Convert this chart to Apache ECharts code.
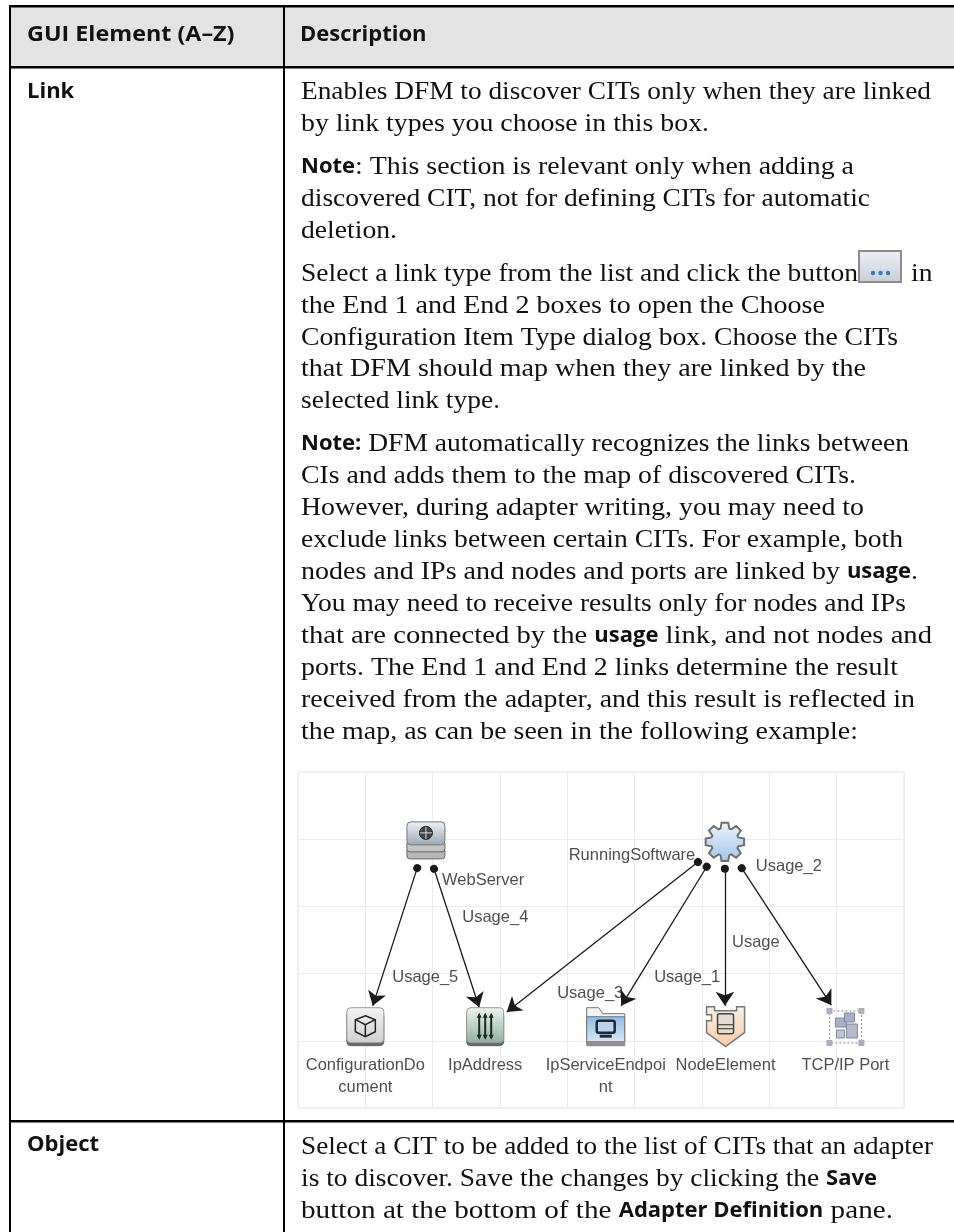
<!DOCTYPE html>
<html>
<head>
<meta charset="utf-8">
<script src="https://cdn.jsdelivr.net/npm/echarts@6/dist/echarts.min.js"></script>
<style>
  html, body { margin: 0; padding: 0; background: #fff; }
  #main { width: 954px; height: 1232px; }
</style>
</head>
<body>
<div id="main"></div>
<script>
// diagram, in grid cells (9 x 5)
var nodeNames = ['WebServer', 'RunningSoftware', 'ConfigurationDocument', 'IpAddress', 'IpServiceEndpoint', 'NodeElement', 'TCP/IP Port']
var nodeIcons = ['server', 'gear', 'doc', 'ip', 'folder', 'node', 'tcp']
var nodeX = [1.90, 6.34, 1.00, 2.78, 4.57, 6.35, 8.13]
var nodeY = [1.01, 1.04, 3.79, 3.79, 3.79, 3.79, 3.78]

var captionNames = ['ConfigurationDo\ncument', 'IpAddress', 'IpServiceEndpoi\nnt', 'NodeElement', 'TCP/IP Port']
var captionX = [1.00, 2.78, 4.57, 6.35, 8.13]
var captionY = [4.21, 4.21, 4.21, 4.21, 4.21]

var linkStartX = [1.77, 2.02, 5.94, 6.07, 6.34, 6.59]
var linkStartY = [1.43, 1.44, 1.34, 1.41, 1.44, 1.43]
var linkEndX = [1.11, 2.69, 3.10, 4.80, 6.34, 7.92]
var linkEndY = [3.48, 3.50, 3.57, 3.48, 3.48, 3.47]

var linkLabels = ['WebServer', 'Usage_4', 'Usage_5', 'RunningSoftware', 'Usage_3', 'Usage_1', 'Usage', 'Usage_2']
var linkLabelX = [2.75, 2.93, 1.89, 4.96, 4.34, 5.78, 6.80, 7.29]
var linkLabelY = [1.61, 2.16, 3.05, 1.24, 3.29, 3.05, 2.54, 1.40]

// table text
var headers = ['GUI Element (A–Z)', 'Description']
var rowNames = ['Link', 'Object']
var bodyLines = [
  'Enables DFM to discover CITs only when they are linked',
  'by link types you choose in this box.',
  '{b|Note}: This section is relevant only when adding a',
  'discovered CIT, not for defining CITs for automatic',
  'deletion.',
  'Select a link type from the list and click the button',
  'the End 1 and End 2 boxes to open the Choose',
  'Configuration Item Type dialog box. Choose the CITs',
  'that DFM should map when they are linked by the',
  'selected link type.',
  '{b|Note:} DFM automatically recognizes the links between',
  'CIs and adds them to the map of discovered CITs.',
  'However, during adapter writing, you may need to',
  'exclude links between certain CITs. For example, both',
  'nodes and IPs and nodes and ports are linked by {b|usage}.',
  'You may need to receive results only for nodes and IPs',
  'that are connected by the {b|usage} link, and not nodes and',
  'ports. The End 1 and End 2 links determine the result',
  'received from the adapter, and this result is reflected in',
  'the map, as can be seen in the following example:',
  'Select a CIT to be added to the list of CITs that an adapter',
  'is to discover. Save the changes by clicking the {b|Save}',
  'button at the bottom of the {b|Adapter Definition} pane.'
]
var bodyLineY = [92, 124, 167, 199, 231, 274, 306, 338, 369, 401, 444, 476, 508, 540, 572, 604, 636, 668, 700, 732, 1147, 1179, 1211]
// right end of each line in the page, the serif is fitted to it
var bodyLineEnd = [931, 709, 854, 870, 397, 858, 825, 898, 866, 500, 909, 856, 864, 903, 918, 906, 932, 898, 915, 858, 933, 877, 893]

var SERIF_FONT = '26px "Liberation Serif"'
var BOLD_FONT = '700 22px "Open Sans"'
var SERIF_SCALE = 1.06

function grad(a, b) {
  return new echarts.graphic.LinearGradient(0, 0, 0, 1, [{ offset: 0, color: a }, { offset: 1, color: b }])
}

function tile(cx, cy, a, b) {
  return [
    { type: 'rect', shape: { x: cx - 18.5, y: cy - 15, width: 37, height: 34, r: 4 }, style: { fill: '#666', stroke: '#666' } },
    { type: 'rect', shape: { x: cx - 18.5, y: cy - 19, width: 37, height: 35, r: 4 }, style: { fill: grad(a, b), stroke: '#9a9a9a', lineWidth: 1 } }
  ]
}

// one icon per node type, drawn around the node's centre
function iconParts(kind, cx, cy) {
  var parts = []
  if (kind === 'server') {
    parts.push({ type: 'rect', shape: { x: cx - 19, y: cy + 8, width: 38, height: 11, r: 3 }, style: { fill: '#b8b8b8', stroke: '#666' } })
    parts.push({ type: 'rect', shape: { x: cx - 19, y: cy + 1, width: 38, height: 11, r: 3 }, style: { fill: '#c4c4c4', stroke: '#666' } })
    parts.push({ type: 'rect', shape: { x: cx - 19, y: cy - 18, width: 38, height: 23, r: 4 }, style: { fill: grad('#eef1f5', '#9aa8b8'), stroke: '#777' } })
    parts.push({ type: 'circle', shape: { cx: cx, cy: cy - 7, r: 6.5 }, style: { fill: '#444', stroke: '#222' } })
    parts.push({ type: 'line', shape: { x1: cx - 6, y1: cy - 7, x2: cx + 6, y2: cy - 7 }, style: { stroke: '#ddd', lineWidth: 1 } })
    parts.push({ type: 'line', shape: { x1: cx, y1: cy - 13, x2: cx, y2: cy - 1 }, style: { stroke: '#ddd', lineWidth: 1 } })
  } else if (kind === 'gear') {
    var pts = []
    for (var i = 0; i < 8; i++) {
      var a = i * Math.PI / 4 - Math.PI / 2
      var w = 0.17
      pts.push([cx + 14 * Math.cos(a - w * 1.9), cy + 14 * Math.sin(a - w * 1.9)])
      pts.push([cx + 19.5 * Math.cos(a - w), cy + 19.5 * Math.sin(a - w)])
      pts.push([cx + 19.5 * Math.cos(a + w), cy + 19.5 * Math.sin(a + w)])
      pts.push([cx + 14 * Math.cos(a + w * 1.9), cy + 14 * Math.sin(a + w * 1.9)])
    }
    parts.push({ type: 'polygon', shape: { points: pts }, style: { fill: grad('#eef4fb', '#9fc3ea'), stroke: '#6f6f6f', lineWidth: 2 } })
  } else if (kind === 'doc') {
    parts = tile(cx, cy, '#f4f4f4', '#cfcfcf')
    parts.push({ type: 'polygon', shape: { points: [[cx, cy - 11], [cx + 10, cy - 7], [cx + 10, cy + 5], [cx, cy + 10], [cx - 10, cy + 5], [cx - 10, cy - 7]] }, style: { fill: 'none', stroke: '#222', lineWidth: 1.5 } })
    parts.push({ type: 'polyline', shape: { points: [[cx - 10, cy - 7], [cx, cy - 2], [cx + 10, cy - 7]] }, style: { fill: 'none', stroke: '#222', lineWidth: 1.5 } })
    parts.push({ type: 'line', shape: { x1: cx, y1: cy - 2, x2: cx, y2: cy + 10 }, style: { stroke: '#222', lineWidth: 1.5 } })
  } else if (kind === 'ip') {
    parts = tile(cx, cy, '#eef4f0', '#8db09f')
    ;[-6, 0, 6].forEach(function (d) {
      parts.push({ type: 'line', shape: { x1: cx + d, y1: cy - 12, x2: cx + d, y2: cy + 11 }, style: { stroke: '#1c2a24', lineWidth: 2 } })
      parts.push({ type: 'polygon', shape: { points: [[cx + d - 2.5, cy - 9], [cx + d, cy - 14], [cx + d + 2.5, cy - 9]] }, style: { fill: '#1c2a24' } })
      parts.push({ type: 'polygon', shape: { points: [[cx + d - 2.5, cy + 8], [cx + d, cy + 13], [cx + d + 2.5, cy + 8]] }, style: { fill: '#1c2a24' } })
    })
  } else if (kind === 'folder') {
    parts.push({ type: 'polygon', shape: { points: [[cx - 19, cy + 19], [cx - 19, cy - 19], [cx - 7, cy - 19], [cx - 3, cy - 13], [cx + 19, cy - 13], [cx + 19, cy + 19]] }, style: { fill: '#f2f2f2', stroke: '#777', lineWidth: 1 } })
    parts.push({ type: 'rect', shape: { x: cx - 19, y: cy - 10, width: 38, height: 25 }, style: { fill: grad('#8fbce6', '#d7e7f6'), stroke: '#777', lineWidth: 1 } })
    parts.push({ type: 'rect', shape: { x: cx - 19, y: cy + 15, width: 38, height: 4 }, style: { fill: '#8f8f8f' } })
    parts.push({ type: 'rect', shape: { x: cx - 9, y: cy - 6, width: 18, height: 12, r: 2 }, style: { fill: '#b9d4ee', stroke: '#1f2a35', lineWidth: 2.5 } })
    parts.push({ type: 'rect', shape: { x: cx - 6, y: cy + 8, width: 12, height: 3 }, style: { fill: '#1f2a35' } })
  } else if (kind === 'node') {
    parts.push({ type: 'polygon', shape: { points: [[cx - 19, cy - 20], [cx - 11, cy - 20], [cx - 11, cy - 16], [cx + 11, cy - 16], [cx + 11, cy - 20], [cx + 19, cy - 20], [cx + 19, cy + 6], [cx, cy + 20], [cx - 19, cy + 6], [cx - 19, cy - 6], [cx - 14, cy - 6], [cx - 14, cy - 12], [cx - 19, cy - 12]] }, style: { fill: grad('#f9f2ea', '#f9c9a3'), stroke: '#777', lineWidth: 1.5 } })
    parts.push({ type: 'rect', shape: { x: cx - 8, y: cy - 13, width: 16, height: 20, r: 2 }, style: { fill: '#e4ddd5', stroke: '#444', lineWidth: 1.5 } })
    parts.push({ type: 'line', shape: { x1: cx - 8, y1: cy - 2, x2: cx + 8, y2: cy - 2 }, style: { stroke: '#444', lineWidth: 1.2 } })
    parts.push({ type: 'line', shape: { x1: cx - 8, y1: cy + 2, x2: cx + 8, y2: cy + 2 }, style: { stroke: '#444', lineWidth: 1.2 } })
  } else if (kind === 'tcp') {
    parts.push({ type: 'rect', shape: { x: cx - 16, y: cy - 15, width: 32, height: 32 }, style: { fill: 'none', stroke: '#888', lineWidth: 1, lineDash: [2, 2] } })
    ;[[-19, -18], [13, -18], [-19, 14], [13, 14]].forEach(function (p) {
      parts.push({ type: 'rect', shape: { x: cx + p[0], y: cy + p[1], width: 6, height: 6 }, style: { fill: '#aab0bb' } })
    })
    parts.push({ type: 'rect', shape: { x: cx - 10, y: cy - 8, width: 11, height: 9 }, style: { fill: '#a9afc4', stroke: '#8088a0' } })
    parts.push({ type: 'rect', shape: { x: cx - 1, y: cy - 13, width: 10, height: 9 }, style: { fill: '#a9afc4', stroke: '#8088a0' } })
    parts.push({ type: 'rect', shape: { x: cx + 1, y: cy - 2, width: 11, height: 14 }, style: { fill: '#b5bacb', stroke: '#8088a0' } })
    parts.push({ type: 'rect', shape: { x: cx - 9, y: cy + 4, width: 8, height: 8 }, style: { fill: '#c2c6d3', stroke: '#8088a0' } })
  }
  return parts
}

function renderIcon(params, api) {
  var p = api.coord([api.value(0), api.value(1)])
  return { type: 'group', children: iconParts(nodeIcons[params.dataIndex], p[0], p[1]) }
}

// table frame and text
var graphics = [
  { type: 'rect', shape: { x: 10, y: 6, width: 944, height: 61 }, style: { fill: '#e3e3e3' }, z: 1 },
  { type: 'rect', shape: { x: 10, y: 5, width: 944, height: 2.5 }, style: { fill: '#000' }, z: 2 },
  { type: 'rect', shape: { x: 10, y: 66, width: 944, height: 2.5 }, style: { fill: '#000' }, z: 2 },
  { type: 'rect', shape: { x: 10, y: 1120, width: 944, height: 2.5 }, style: { fill: '#000' }, z: 2 },
  { type: 'rect', shape: { x: 9, y: 5, width: 2, height: 1227 }, style: { fill: '#000' }, z: 2 },
  { type: 'rect', shape: { x: 283, y: 5, width: 2, height: 1227 }, style: { fill: '#000' }, z: 2 },
  // the small "..." button inside the text
  { type: 'rect', shape: { x: 859, y: 251, width: 42, height: 31 }, style: { fill: grad('#eef1f5', '#c5ced8'), stroke: '#8c8c8c', lineWidth: 2 }, z: 2 },
  { type: 'circle', shape: { cx: 873, cy: 273, r: 2.2 }, style: { fill: '#3d78b8' }, z: 3 },
  { type: 'circle', shape: { cx: 880.5, cy: 273, r: 2.2 }, style: { fill: '#3d78b8' }, z: 3 },
  { type: 'circle', shape: { cx: 888, cy: 273, r: 2.2 }, style: { fill: '#3d78b8' }, z: 3 }
]

function pushText(text, x, y, font, scaleX) {
  graphics.push({
    type: 'text', x: x, y: y, z: 3, scaleX: scaleX,
    style: { text: text, fill: '#111', font: font, verticalAlign: 'middle' }
  })
}
pushText(headers[0], 27, 35, BOLD_FONT, 1.06)
pushText(headers[1], 300, 35, BOLD_FONT, 1)
pushText(rowNames[0], 27, 92, BOLD_FONT, 1)
pushText(rowNames[1], 27, 1145, BOLD_FONT, 1)

// a line can mix serif and bold sans, so each piece is placed after the one before
var measure = document.createElement('canvas').getContext('2d')
function textWidth(text, font) {
  measure.font = font
  return measure.measureText(text).width
}
function bodyText(line, x, y, end) {
  var pieces = line.split(/(\{b\|[^}]*\})/).filter(Boolean)
  var serifW = 0, boldW = 0
  pieces.forEach(function (piece) {
    if (piece.indexOf('{b|') === 0) boldW += textWidth(piece.slice(3, -1), BOLD_FONT)
    else serifW += textWidth(piece, SERIF_FONT)
  })
  var scale = end ? (end - x - boldW) / serifW : SERIF_SCALE
  pieces.forEach(function (piece) {
    var bold = piece.indexOf('{b|') === 0
    var text = bold ? piece.slice(3, -1) : piece
    var font = bold ? BOLD_FONT : SERIF_FONT
    var s = bold ? 1 : scale
    pushText(text, x, y, font, s)
    x += textWidth(text, font) * s
  })
}
bodyLines.forEach(function (t, i) { bodyText(t, 301, bodyLineY[i], bodyLineEnd[i]) })
bodyText('in', 911, 274)

var labelFont = { color: '#222', fontFamily: '"Liberation Sans"', fontSize: 16.5 }

var option = {
  animation: false,
  backgroundColor: '#fff',
  graphic: graphics,
  grid: { left: 298, top: 772, width: 606, height: 336, show: true, borderColor: '#e4e4e4', borderWidth: 1 },
  xAxis: {
    type: 'value', min: 0, max: 9, interval: 1,
    axisLabel: { show: false }, axisTick: { show: false }, axisLine: { show: false },
    splitLine: { lineStyle: { color: '#ececec', width: 1 } }
  },
  yAxis: {
    type: 'value', min: 0, max: 5, interval: 1, inverse: true,
    axisLabel: { show: false }, axisTick: { show: false }, axisLine: { show: false },
    splitLine: { lineStyle: { color: '#ececec', width: 1 } }
  },
  series: [
    {
      type: 'lines',
      coordinateSystem: 'cartesian2d',
      symbol: ['circle', 'arrow'],
      symbolSize: [8, 14],
      lineStyle: { color: '#1a1a1a', width: 1.3, opacity: 1, curveness: 0 },
      data: linkStartX.map(function (x, i) {
        return { coords: [[x, linkStartY[i]], [linkEndX[i], linkEndY[i]]] }
      })
    },
    {
      type: 'custom',
      coordinateSystem: 'cartesian2d',
      renderItem: renderIcon,
      data: nodeNames.map(function (n, i) { return { name: n, value: [nodeX[i], nodeY[i]] } })
    },
    {
      type: 'scatter',
      symbolSize: 0,
      label: Object.assign({ show: true, position: 'inside', formatter: '{b}' }, labelFont),
      data: linkLabels.map(function (n, i) { return { name: n, value: [linkLabelX[i], linkLabelY[i]] } })
    },
    {
      type: 'scatter',
      symbolSize: 0,
      label: Object.assign({ show: true, position: 'inside', formatter: '{b}', lineHeight: 22, align: 'center', verticalAlign: 'top' }, labelFont),
      data: captionNames.map(function (n, i) { return { name: n, value: [captionX[i], captionY[i]] } })
    }
  ]
}

var chart = echarts.init(document.getElementById('main'))
chart.setOption(option)
</script>
</body>
</html>
